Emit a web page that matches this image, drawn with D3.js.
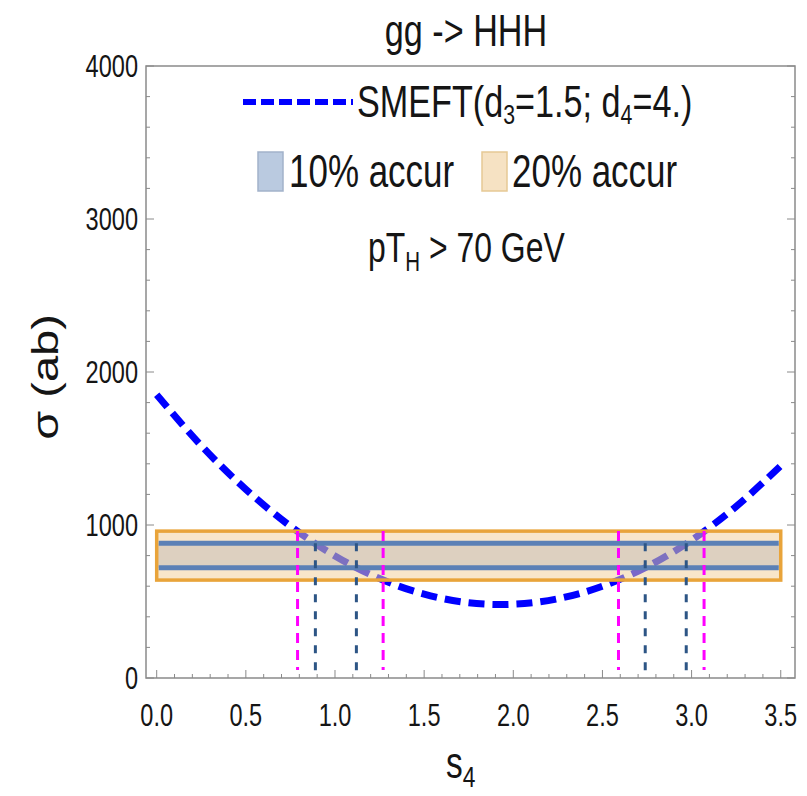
<!DOCTYPE html>
<html><head><meta charset="utf-8">
<script src="https://cdn.jsdelivr.net/npm/d3@7"></script>
<style>
html,body{margin:0;padding:0;background:#fff;}
svg text{font-family:"Liberation Sans",Arial,sans-serif;fill:#151515;}
</style></head>
<body><svg id="c" width="807" height="796"></svg>
<script>
// ---- data ----
const s4Values = [0, 0.25, 0.5, 0.75, 1.0, 1.25, 1.5, 1.75, 2.0, 2.25, 2.5, 2.75, 3.0, 3.25, 3.5];
const sigmaValues = [1851, 1519, 1233, 992, 798, 650, 548, 492, 482, 518, 600, 727, 901, 1121, 1387];
const band20 = [640, 960];
const band10 = [720, 880];
const bandRange = [0, 3.5];
const cross20 = [0.79, 1.27, 2.59, 3.07];
const cross10 = [0.89, 1.12, 2.74, 2.97];
const xTickValues = [0, 0.5, 1.0, 1.5, 2.0, 2.5, 3.0, 3.5];
const xTickLabels = ["0.0", "0.5", "1.0", "1.5", "2.0", "2.5", "3.0", "3.5"];
const yTickValues = [0, 1000, 2000, 3000, 4000];
const yTickLabels = ["0", "1000", "2000", "3000", "4000"];

const svg = d3.select("#c");
const L = 146, R = 795, T = 66, B = 678;
const x = d3.scaleLinear().domain([-0.06, 3.58]).range([L, R]);
const y = d3.scaleLinear().domain([0, 4000]).range([B, T]);
const SX = 0.76; // horizontal squeeze of the reference's lettering

const frameCol = "#8a8a8a";

function txt(px, py, size, anchor) {
  return svg.append("text")
    .attr("transform", `translate(${px},${py}) scale(${SX},1)`)
    .attr("text-anchor", anchor || "start")
    .attr("font-size", size);
}

// curve
const pts = s4Values.map((s, i) => [s, sigmaValues[i]]);
const line = d3.line().x(d => x(d[0])).y(d => y(d[1])).curve(d3.curveNatural);
svg.append("path").attr("d", line(pts)).attr("fill", "none")
  .attr("stroke", "#0000ff").attr("stroke-width", 7).attr("stroke-dasharray", "16,8");

// 20% band
svg.append("rect").attr("x", x(bandRange[0])).attr("y", y(band20[1]))
  .attr("width", x(bandRange[1]) - x(bandRange[0])).attr("height", y(band20[0]) - y(band20[1]))
  .attr("fill", "rgb(242,205,150)").attr("fill-opacity", 0.5);
// 10% band
svg.append("rect").attr("x", x(bandRange[0])).attr("y", y(band10[1]))
  .attr("width", x(bandRange[1]) - x(bandRange[0])).attr("height", y(band10[0]) - y(band10[1]))
  .attr("fill", "rgb(140,145,165)").attr("fill-opacity", 0.25);
svg.append("rect").attr("x", x(bandRange[0])).attr("y", y(band20[1]))
  .attr("width", x(bandRange[1]) - x(bandRange[0])).attr("height", y(band20[0]) - y(band20[1]))
  .attr("fill", "none").attr("stroke", "#e9a43a").attr("stroke-width", 3.5);
band10.forEach(v => {
  svg.append("line").attr("x1", x(bandRange[0]) + 2).attr("x2", x(bandRange[1]) - 2)
    .attr("y1", y(v)).attr("y2", y(v)).attr("stroke", "#5b80b6").attr("stroke-width", 5);
});

// vertical lines
cross20.forEach(c => {
  svg.append("line").attr("x1", x(c)).attr("x2", x(c)).attr("y1", y(band20[1])).attr("y2", y(0) - 8)
    .attr("stroke", "#ff00ff").attr("stroke-width", 3).attr("stroke-dasharray", "10,7");
});
cross10.forEach(c => {
  svg.append("line").attr("x1", x(c)).attr("x2", x(c)).attr("y1", y(band10[1])).attr("y2", y(0))
    .attr("stroke", "#2d5585").attr("stroke-width", 3).attr("stroke-dasharray", "8,9");
});

// frame
svg.append("rect").attr("x", L).attr("y", T).attr("width", R - L).attr("height", B - T)
  .attr("fill", "none").attr("stroke", frameCol).attr("stroke-width", 1.5);

// ticks
const xMinor = d3.range(0, 36).map(i => i / 10);
xMinor.forEach(v => {
  const major = Math.abs(v * 2 - Math.round(v * 2)) < 1e-6;
  const len = major ? 8 : 4;
  svg.append("line").attr("x1", x(v)).attr("x2", x(v)).attr("y1", B).attr("y2", B - len)
    .attr("stroke", frameCol).attr("stroke-width", 1);
});
const yMinor = d3.range(0, 21).map(i => i * 200);
yMinor.forEach(v => {
  const major = v % 1000 === 0;
  const len = major ? 8 : 4;
  svg.append("line").attr("x1", L).attr("x2", L + len).attr("y1", y(v)).attr("y2", y(v))
    .attr("stroke", frameCol).attr("stroke-width", 1);
  svg.append("line").attr("x1", R).attr("x2", R - len).attr("y1", y(v)).attr("y2", y(v))
    .attr("stroke", frameCol).attr("stroke-width", 1);
});

// tick labels
xTickValues.forEach((v, i) => {
  txt(x(v), 726, 31, "middle").text(xTickLabels[i]);
});
yTickValues.forEach((v, i) => {
  txt(138, y(v) + 11, 31, "end").text(yTickLabels[i]);
});

// axis labels
svg.append("text").attr("transform", "translate(58,377) rotate(-90) scale(1,0.8)").attr("text-anchor", "middle")
  .attr("font-size", 47).text("σ (ab)");
const xl = txt(446, 778, 44, "start");
xl.append("tspan").text("s");
xl.append("tspan").attr("font-size", 30).attr("dy", 9).text("4");

// title
txt(466, 46, 45, "middle").text("gg -> HHH");

// legend row 1
svg.append("line").attr("x1", 243).attr("x2", 353).attr("y1", 102).attr("y2", 102)
  .attr("stroke", "#0000ff").attr("stroke-width", 6).attr("stroke-dasharray", "13,5");
const t1 = txt(357, 117, 45, "start");
t1.append("tspan").text("SMEFT(d");
t1.append("tspan").attr("font-size", 28).attr("dy", 7).text("3");
t1.append("tspan").attr("dy", -7).text("=1.5; d");
t1.append("tspan").attr("font-size", 28).attr("dy", 7).text("4");
t1.append("tspan").attr("dy", -7).text("=4.)");

// legend row 2
svg.append("rect").attr("x", 258).attr("y", 152).attr("width", 25).attr("height", 39)
  .attr("fill", "#bacae0").attr("stroke", "#a2b2ca").attr("stroke-width", 1.5);
txt(289, 187, 46, "start").text("10% accur");
svg.append("rect").attr("x", 482).attr("y", 152).attr("width", 25).attr("height", 39)
  .attr("fill", "#f6e2c3").attr("stroke", "#e6c995").attr("stroke-width", 1.5);
txt(512, 187, 46, "start").text("20% accur");

// legend row 3
const t3 = txt(368, 262, 42, "start");
t3.append("tspan").text("pT");
t3.append("tspan").attr("font-size", 27).attr("dy", 9).text("H");
t3.append("tspan").attr("dy", -9).text(" > 70 GeV");
</script></body></html>
